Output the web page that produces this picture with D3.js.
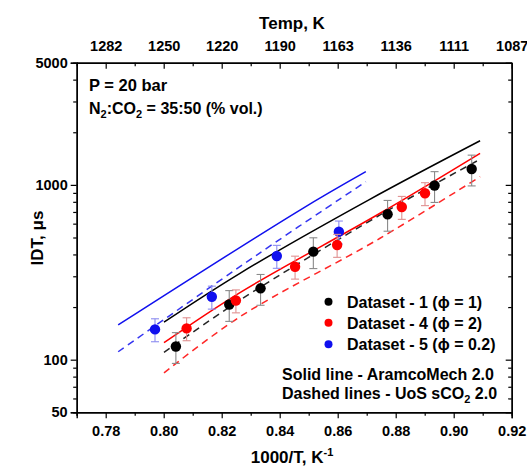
<!DOCTYPE html>
<html><head><meta charset="utf-8">
<script src="https://cdn.jsdelivr.net/npm/d3@7"></script>
<style>
html,body{margin:0;padding:0;background:#fff;}
text{font-family:"Liberation Sans",Arial,sans-serif;font-weight:bold;fill:#000;}
</style></head>
<body><svg id="c" width="527" height="468"></svg>
<script>
// ---- data ----
const xTickValues = [0.78,0.80,0.82,0.84,0.86,0.88,0.90,0.92];
const topTickLabels = ["1282","1250","1220","1190","1163","1136","1111","1087"];
const yTickValues = [50,100,1000,5000];

const ds1X = [0.8042,0.8226,0.8334,0.8516,0.8772,0.8934,0.9062];
const ds1Y = [119,207,256,415,679,992,1233];
const ds1Err = [0.2,0.2,0.2,0.2,0.2,0.2,0.2];

const ds4X = [0.8079,0.8249,0.8453,0.8598,0.8821,0.8901];
const ds4Y = [151,218,340,453,747,895];
const ds4Err = [0.15,0.15,0.15,0.15,0.15,0.15];

const ds5X = [0.797,0.8166,0.839,0.8604];
const ds5Y = [149,229,392,540];
const ds5Err = [0.15,0.15,0.15,0.15];

const aramco1X = [0.8001,0.8263,0.8706,0.9091];
const aramco1Y = [164,312,819,1789];
const uos1X = [0.8001,0.8263,0.8746,0.9091];
const uos1Y = [110,219,673,1401];
const aramco4X = [0.8001,0.8263,0.8746,0.9091];
const aramco4Y = [125,242,688,1516];
const uos4X = [0.8001,0.8263,0.8746,0.9091];
const uos4Y = [84,176,495,1114];
const aramco5X = [0.7843,0.847,0.8697];
const aramco5Y = [158,718,1190];
const uos5X = [0.7843,0.8321,0.8697];
const uos5Y = [111,397,1043];

const legendLabels = ["Dataset - 1 (\u03D5 = 1)","Dataset - 4 (\u03D5 = 2)","Dataset - 5 (\u03D5 = 0.2)"];

// ---- layout ----
const L = 76.7, R = 511.7, T = 62.7, B = 412.3;
const svg = d3.select("#c");
const x = d3.scaleLinear().domain([0.77,0.92]).range([L,R]);
const y = d3.scaleLog().domain([50,5000]).range([B,T]);

const COL = {k:"#000000", r:"#ff0000", b:"#1010ee"};

// minor ticks
const xMinor = d3.range(0.77,0.9201,0.01).map(v=>+v.toFixed(2)).filter(v=>!xTickValues.some(t=>Math.abs(t-v)<1e-6));
const yMinor = [];
[10,100,1000].forEach(d=>{for(let i=2;i<=9;i++){const v=i*d; if(v>50&&v<5000&&v!==100&&v!==1000) yMinor.push(v);}});

// bottom axis (outward)
svg.append("g").attr("transform",`translate(0,${B})`)
  .call(d3.axisBottom(x).tickValues(xTickValues).tickFormat(d3.format(".2f")).tickSize(6).tickPadding(7));
svg.append("g").attr("transform",`translate(0,${B})`)
  .call(d3.axisBottom(x).tickValues(xMinor).tickFormat("").tickSize(3.5));
// top axis (inward)
svg.append("g").attr("transform",`translate(0,${T})`)
  .call(d3.axisTop(x).tickValues(xTickValues).tickFormat((d,i)=>topTickLabels[i]).tickSizeInner(-6).tickSizeOuter(0).tickPadding(12));
svg.append("g").attr("transform",`translate(0,${T})`)
  .call(d3.axisTop(x).tickValues(xMinor).tickFormat("").tickSizeInner(-3.5).tickSizeOuter(0));
// left axis (outward)
svg.append("g").attr("transform",`translate(${L},0)`)
  .call(d3.axisLeft(y).tickValues(yTickValues).tickFormat(d3.format("d")).tickSize(6).tickPadding(3));
svg.append("g").attr("transform",`translate(${L},0)`)
  .call(d3.axisLeft(y).tickValues(yMinor).tickFormat("").tickSize(3.5));
// right axis (inward)
svg.append("g").attr("transform",`translate(${R},0)`)
  .call(d3.axisRight(y).tickValues(yTickValues).tickFormat("").tickSizeInner(-6).tickSizeOuter(0));
svg.append("g").attr("transform",`translate(${R},0)`)
  .call(d3.axisRight(y).tickValues(yMinor).tickFormat("").tickSizeInner(-3.5).tickSizeOuter(0));

svg.selectAll(".domain").attr("stroke","#000").attr("stroke-width",1.4);
svg.selectAll(".tick line").attr("stroke","#000").attr("stroke-width",1.2);
svg.selectAll(".tick text").style("font-size","14.5px").style("font-weight","bold").attr("fill","#000")
  .style("font-family","'Liberation Sans',Arial,sans-serif");

// titles
svg.append("text").attr("x",292).attr("y",29).attr("text-anchor","middle").style("font-size","17px").text("Temp, K");
const xt = svg.append("text").attr("x",292).attr("y",463).attr("text-anchor","middle").style("font-size","17px");
xt.append("tspan").text("1000/T, K");
xt.append("tspan").attr("dy",-7).style("font-size","11px").text("-1");
svg.append("text").attr("transform","translate(43,238) rotate(-90)").attr("text-anchor","middle").style("font-size","17px").text("IDT, \u03BCs");

// annotations
svg.append("text").attr("x",89).attr("y",91).style("font-size","16.5px").text("P = 20 bar");
const an = svg.append("text").attr("x",89).attr("y",114).style("font-size","16px");
an.append("tspan").text("N");
an.append("tspan").attr("dy",4).style("font-size","11px").text("2");
an.append("tspan").attr("dy",-4).text(":CO");
an.append("tspan").attr("dy",4).style("font-size","11px").text("2");
an.append("tspan").attr("dy",-4).text(" = 35:50 (% vol.)");

// model lines
const line = d3.line().x(d=>x(d[0])).y(d=>y(d[1])).curve(d3.curveCatmullRom.alpha(0.5));
const zip = (a,b)=>a.map((v,i)=>[v,b[i]]);
const models = [
  {xs:aramco5X, ys:aramco5Y, c:COL.b, dash:null},
  {xs:uos5X, ys:uos5Y, c:COL.b, dash:"7,5"},
  {xs:aramco1X, ys:aramco1Y, c:COL.k, dash:null},
  {xs:uos1X, ys:uos1Y, c:COL.k, dash:"7,5"},
  {xs:aramco4X, ys:aramco4Y, c:COL.r, dash:null},
  {xs:uos4X, ys:uos4Y, c:COL.r, dash:"7,5"}
];
svg.append("g").selectAll("path").data(models).join("path")
  .attr("d",m=>line(zip(m.xs,m.ys)))
  .attr("fill","none").attr("stroke",m=>m.c).attr("stroke-width",1.5)
  .attr("stroke-dasharray",m=>m.dash).attr("opacity",m=>m.dash?0.85:1);

// data points with error bars
const sets = [
  {xs:ds5X, ys:ds5Y, es:ds5Err, c:COL.b, ec:"#8c8cf0"},
  {xs:ds1X, ys:ds1Y, es:ds1Err, c:COL.k, ec:"#8a8a8a"},
  {xs:ds4X, ys:ds4Y, es:ds4Err, c:COL.r, ec:"#e09090"}
];
sets.forEach(s=>{
  const g = svg.append("g");
  const pts = s.xs.map((v,i)=>({x:v,y:s.ys[i],e:s.es[i]}));
  const eb = g.selectAll("g.eb").data(pts).join("g").attr("stroke",s.ec).attr("stroke-width",1.1);
  eb.append("line").attr("x1",d=>x(d.x)).attr("x2",d=>x(d.x)).attr("y1",d=>y(d.y*(1+d.e))).attr("y2",d=>y(d.y*(1-d.e)));
  eb.append("line").attr("x1",d=>x(d.x)-4).attr("x2",d=>x(d.x)+4).attr("y1",d=>y(d.y*(1+d.e))).attr("y2",d=>y(d.y*(1+d.e)));
  eb.append("line").attr("x1",d=>x(d.x)-4).attr("x2",d=>x(d.x)+4).attr("y1",d=>y(d.y*(1-d.e))).attr("y2",d=>y(d.y*(1-d.e)));
  g.selectAll("circle").data(pts).join("circle")
    .attr("cx",d=>x(d.x)).attr("cy",d=>y(d.y)).attr("r",5.2).attr("fill",s.c);
});

// legend
const legColors = [COL.k, COL.r, COL.b];
const legY = [301.7,322.7,344.3];
const lg = svg.append("g");
legendLabels.forEach((t,i)=>{
  lg.append("circle").attr("cx",328.5).attr("cy",legY[i]).attr("r",4).attr("fill",legColors[i]);
  lg.append("text").attr("x",347).attr("y",legY[i]+6).style("font-size","16px").text(t);
});
svg.append("text").attr("x",282).attr("y",380).style("font-size","16px").text("Solid line - AramcoMech 2.0");
const dl = svg.append("text").attr("x",282).attr("y",399).style("font-size","16px");
dl.append("tspan").text("Dashed lines - UoS sCO");
dl.append("tspan").attr("dy",4).style("font-size","11px").text("2");
dl.append("tspan").attr("dy",-4).text(" 2.0");
</script></body></html>
